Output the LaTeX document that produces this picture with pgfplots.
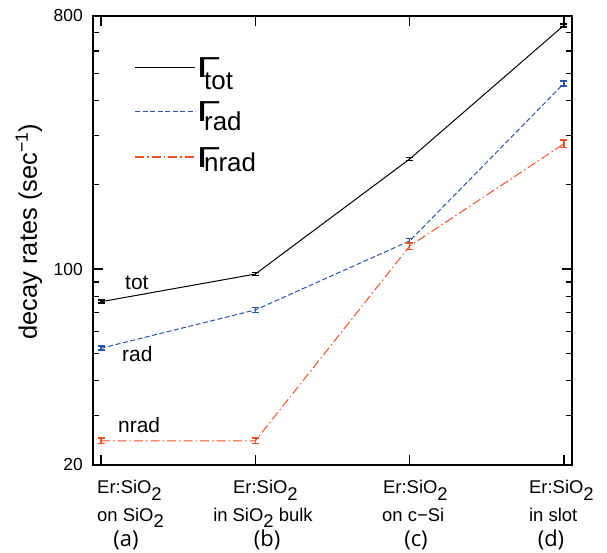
\documentclass[border=0pt]{standalone}
\usepackage{fontspec}
\setmainfont{Liberation Sans}
\newfontfamily\letterfont{Open Sans}
\usepackage{graphicx}
\usepackage{pgfplots}
\pgfplotsset{compat=1.18}
\definecolor{radblue}{RGB}{40,86,170}
\definecolor{nradred}{RGB}{242,80,36}
\newcommand{\fs}[1]{\fontsize{#1}{#1}\selectfont}
\newcommand{\lowsub}[1]{\raisebox{-6.5bp}{#1}}
\pgfplotsset{
  errs/.style={error bars/.cd, y dir=both, y explicit,
    error bar style={line width=1.5bp, solid},
    error mark options={rotate=90, mark size=3.5bp, line width=1.8bp, solid}},
}
\tikzset{
  lab/.style={anchor=base west, inner sep=0pt, font=\fs{18.5}},
  letter/.style={inner sep=0pt, font=\letterfont\fs{22}, yshift=-75bp},
  gam/.style={anchor=base west, inner sep=0pt, font=\fs{29}},
  gsub/.style={anchor=base west, inner sep=0pt, font=\fs{26}},
}

\begin{document}
\begin{tikzpicture}
\begin{axis}[
  scale only axis, width=479bp, height=449bp,
  ymode=log, ymin=20, ymax=800,
  xmin=-0.052, xmax=3.052,
  xtick={0,1,2,3}, xticklabels={},
  ytick={20,100,800}, yticklabels={20,100,800},
  minor ytick={30,40,50,60,70,80,90,200,300,400,500,600,700},
  tick align=inside,
  major tick length=10bp, minor tick length=6bp,
  every tick/.style={black, line width=1.2bp},
  axis line style={line width=1.8bp},
  yticklabel style={font=\fs{17.5}, inner sep=0pt},
  yticklabel shift=10bp,
  ylabel={decay rates (sec\textsuperscript{−1})},
  ylabel style={font=\fs{25.5}, at={(axis description cs:-0.134,0.52)}, anchor=center},
  clip=false,
]
% total
\addplot[black, line width=1bp, errs] coordinates {
  (0,76.5) +- (0,1.0)
  (1,96)   +- (0,1.2)
  (2,247)  +- (0,3)
  (3,741)  +- (0,8)
};
% radiative
\addplot[radblue, line width=1bp, dash pattern=on 5bp off 2.5bp, errs] coordinates {
  (0,52.2) +- (0,0.8)
  (1,71.5) +- (0,1.5)
  (2,126)  +- (0,2.5)
  (3,460)  +- (0,8.7)
};
% non-radiative
\addplot[nradred, line width=1bp, dash pattern=on 9bp off 3bp on 1.5bp off 3bp, errs] coordinates {
  (0,24.4) +- (0,0.55)
  (1,24.4) +- (0,0.55)
  (2,120.8) +- (0,3.3)
  (3,280)  +- (0,8.5)
};

% legend
\draw[black, line width=1.3bp] (axis description cs:0.0877,0.886) -- (axis description cs:0.213,0.886);
\draw[radblue, line width=1.3bp, dash pattern=on 5bp off 2.5bp] (axis description cs:0.0877,0.787) -- (axis description cs:0.213,0.787);
\draw[nradred, line width=1.3bp, dash pattern=on 9bp off 3bp on 1.5bp off 3bp] (axis description cs:0.0877,0.686) -- (axis description cs:0.213,0.686);
\node[gam] at (axis description cs:0.2160,0.8635) {\scalebox{1.5}[1]{Γ}};
\node[gam] at (axis description cs:0.2160,0.7646) {\scalebox{1.5}[1]{Γ}};
\node[gam] at (axis description cs:0.2160,0.6620) {\scalebox{1.5}[1]{Γ}};
\node[gsub] at (axis description cs:0.2317,0.8367) {tot};
\node[gsub] at (axis description cs:0.2317,0.7445) {rad};
\node[gsub] at (axis description cs:0.2317,0.6532) {nrad};

% curve labels
\node[anchor=base west, inner sep=0pt, font=\fs{21}] at (axis description cs:0.0668,0.3898) {tot};
\node[anchor=base west, inner sep=0pt, font=\fs{21}] at (axis description cs:0.0605,0.2294) {rad};
\node[anchor=base west, inner sep=0pt, font=\fs{21}] at (axis description cs:0.0522,0.0713) {nrad};

% category labels
\node[lab, yshift=-28.6bp] at (axis cs:-0.026,20) {Er:SiO\lowsub{2}};
\node[lab, yshift=-56.4bp] at (axis cs:-0.026,20) {on SiO\lowsub{2}};
\node[lab, yshift=-28.6bp] at (axis cs:0.855,20) {Er:SiO\lowsub{2}};
\node[lab, yshift=-56.4bp] at (axis cs:0.726,20) {in SiO\lowsub{2} bulk};
\node[lab, yshift=-28.6bp] at (axis cs:1.827,20) {Er:SiO\lowsub{2}};
\node[lab, yshift=-56.4bp] at (axis cs:1.821,20) {on c−Si};
\node[lab, yshift=-28.6bp] at (axis cs:2.773,20) {Er:SiO\lowsub{2}};
\node[lab, yshift=-56.4bp] at (axis cs:2.773,20) {in slot};
\node[letter] at (axis cs:0.162,20) {(a)};
\node[letter] at (axis cs:1.076,20) {(b)};
\node[letter] at (axis cs:2.041,20) {(c)};
\node[letter] at (axis cs:2.916,20) {(d)};
\end{axis}
\path (-93bp,-88bp) rectangle (514bp,465bp);
\end{tikzpicture}
\end{document}
